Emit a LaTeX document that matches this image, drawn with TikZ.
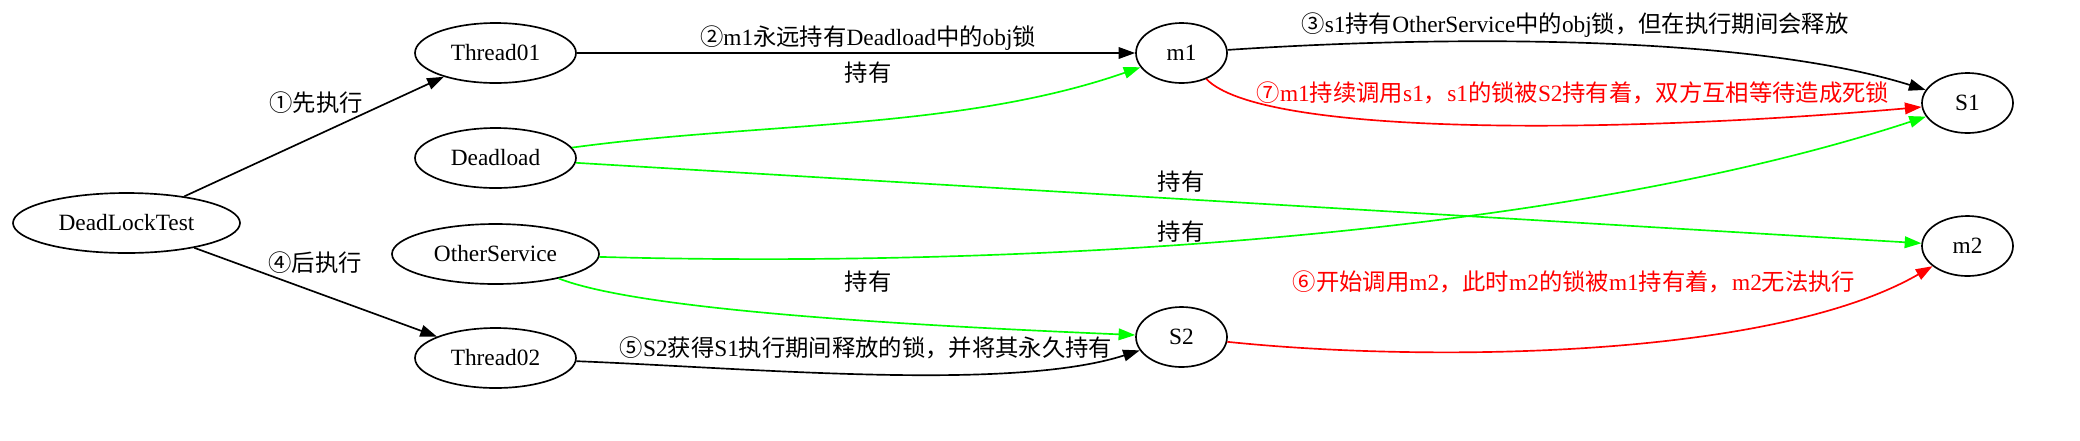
\documentclass[tikz,border=0pt]{standalone}
\usepackage{fontspec}
\setmainfont{Liberation Serif}
\newfontfamily\cjk{Noto Sans CJK SC}
\usetikzlibrary{shapes.geometric,arrows.meta}
\newcommand\zh[1]{{\cjk #1}}

\begin{document}
\begin{tikzpicture}[x=0.6pt,y=-0.6pt,->,>={Triangle[length=10pt,width=7pt]},line width=1pt,
  main node/.style={ellipse,draw,inner sep=0pt,minimum height=36pt,font=\fontsize{14}{16}\selectfont},
  lock node/.style={main node,minimum width=54.6pt},
  lbl/.style={inner sep=0pt,font=\fontsize{14}{16}\selectfont}]
            \useasboundingbox (0,0) rectangle (2080,440);

            \node[main node, minimum width=136.2pt] (main) at (126.5,223) {DeadLockTest};
            \node[main node, minimum width=96.6pt] (t1) at (495.5,53) {Thread01};
            \node[main node, minimum width=96.6pt] (dl) at (495.5,158) {Deadload};
            \node[main node, minimum width=124.2pt] (os) at (495.5,254) {OtherService};
            \node[main node, minimum width=96.6pt] (t2) at (495.5,358) {Thread02};
            \node[lock node] (m1) at (1181.5,53) {m1};
            \node[lock node] (s2) at (1181.5,337) {S2};
            \node[lock node] (s1) at (1967.5,103) {S1};
            \node[lock node] (m2) at (1967.5,246) {m2};

            \node[lbl] (l1) at (316,103) {\zh{①先执行}};
            \node[lbl] (l4) at (315,263) {\zh{④后执行}};
            \node[lbl] (l2) at (868,38) {\zh{②}m1\zh{永远持有}Deadload\zh{中的}obj\zh{锁}};
            \node[lbl] (h1) at (868,73) {\zh{持有}};
            \node[lbl] (l3) at (1575,25) {\zh{③}s1\zh{持有}OtherService\zh{中的}obj\zh{锁，但在执行期间会释放}};
            \node[lbl, text=red] (l7) at (1573,93) {\zh{⑦}m1\zh{持续调用}s1\zh{，}s1\zh{的锁被}S2\zh{持有着，双方互相等待造成死锁}};
            \node[lbl] (h2) at (1181,182) {\zh{持有}};
            \node[lbl] (h3) at (1181,232) {\zh{持有}};
            \node[lbl] (h4) at (868,282) {\zh{持有}};
            \node[lbl, text=red] (l6) at (1574,282) {\zh{⑥开始调用}m2\zh{，此时}m2\zh{的锁被}m1\zh{持有着，}m2\zh{无法执行}};
            \node[lbl] (l5) at (866,348) {\zh{⑤}S2\zh{获得}S1\zh{执行期间释放的锁，并将其永久持有}};

            \path
                (main) edge (t1)
                (main) edge (t2)
                (t1) edge (m1)
                (dl) edge[green] (m2)
            ;
            \draw[green] (dl) .. controls (760,122) and (960,130) .. (m1);
            \draw (m1) .. controls (1450,35) and (1750,35) .. (s1);
            \draw[red] (m1) .. controls (1260,135) and (1600,135) .. (s1);
            \draw[green] (os) .. controls (1000,268) and (1550,240) .. (s1);
            \draw[green] (os) .. controls (640,310) and (900,325) .. (s2);
            \draw (t2) .. controls (750,368) and (1010,392) .. (s2);
            \draw[red] (s2) .. controls (1420,362) and (1770,360) .. (m2);
        \end{tikzpicture}
\end{document}
